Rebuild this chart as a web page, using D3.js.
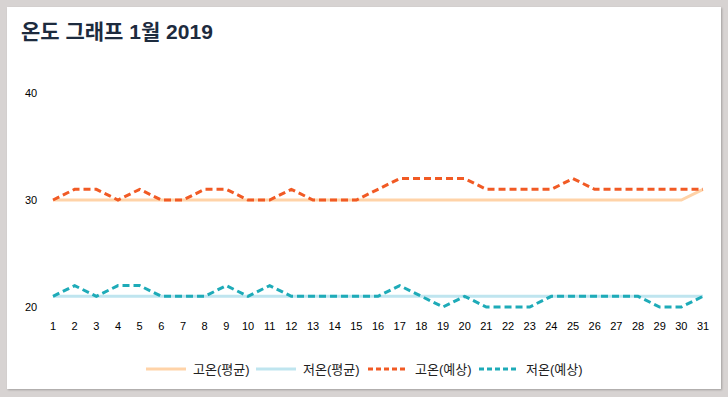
<!DOCTYPE html>
<html>
<head>
<meta charset="utf-8">
<script src="https://cdn.jsdelivr.net/npm/d3@7"></script>
<style>
  html, body { margin: 0; padding: 0; background: #d7d3d2; }
  body { width: 728px; height: 397px; overflow: hidden; }
  #card {
    position: absolute; left: 7px; top: 7px; width: 714px; height: 382px;
    background: #fff; box-shadow: 1px 1px 2px rgba(0,0,0,0.25);
  }
  svg { position: absolute; left: 0; top: 0; font-family: Arial, "Liberation Sans", "Noto Sans CJK KR", sans-serif; }
</style>
</head>
<body>
<div id="card"></div>
<div id="chart"></div>
<script>
const days = d3.range(1, 32);
const yTicks = [20, 30, 40];
const highAvg = [30,30,30,30,30,30,30,30,30,30,30,30,30,30,30,30,30,30,30,30,30,30,30,30,30,30,30,30,30,30,31];
const lowAvg = [21,21,21,21,21,21,21,21,21,21,21,21,21,21,21,21,21,21,21,21,21,21,21,21,21,21,21,21,21,21,21];
const highForecast = [30,31,31,30,31,30,30,31,31,30,30,31,30,30,30,31,32,32,32,32,31,31,31,31,32,31,31,31,31,31,31];
const lowForecast = [21,22,21,22,22,21,21,21,22,21,22,21,21,21,21,21,22,21,20,21,20,20,20,21,21,21,21,21,20,20,21];

const series = [
  { name: '고온(평균)', values: highAvg, color: '#ffd3a8', dash: null },
  { name: '저온(평균)', values: lowAvg, color: '#bfe5ef', dash: null },
  { name: '고온(예상)', values: highForecast, color: '#f15a24', dash: '7,4' },
  { name: '저온(예상)', values: lowForecast, color: '#1eabb8', dash: '7,4' }
];

const width = 728, height = 397;
const svg = d3.select('#chart').append('svg')
  .attr('width', width).attr('height', height);

svg.append('text')
  .attr('x', 21).attr('y', 39)
  .attr('fill', '#1d2b3e')
  .style('font-size', '21px').style('font-weight', 'bold')
  .text('온도 그래프 1월 2019');

const x = d3.scalePoint().domain(days).range([53, 703]);
const y = d3.scaleLinear().domain([20, 40]).range([307, 93]);

// y labels
svg.append('g')
  .selectAll('text').data(yTicks).enter().append('text')
  .attr('x', 31).attr('y', d => y(d))
  .attr('dy', '0.35em').attr('text-anchor', 'middle')
  .style('font-size', '11px').attr('fill', '#000')
  .text(d => d);

// x labels
svg.append('g')
  .selectAll('text').data(days).enter().append('text')
  .attr('x', d => x(d)).attr('y', 326)
  .attr('dy', '0.35em').attr('text-anchor', 'middle')
  .style('font-size', '11px').attr('fill', '#000')
  .text(d => d);

const line = d3.line()
  .x((d, i) => x(days[i]))
  .y(d => y(d));

svg.append('g').selectAll('path').data(series).enter().append('path')
  .attr('d', d => line(d.values))
  .attr('fill', 'none')
  .attr('stroke', d => d.color)
  .attr('stroke-width', 3)
  .attr('stroke-dasharray', d => d.dash);

// legend
const legendX = [146, 256, 368, 479];
const lg = svg.append('g').selectAll('g').data(series).enter().append('g')
  .attr('transform', (d, i) => `translate(${legendX[i]},369)`);
lg.append('line')
  .attr('x1', 0).attr('x2', 40).attr('y1', 0).attr('y2', 0)
  .attr('stroke', d => d.color).attr('stroke-width', 3)
  .attr('stroke-dasharray', d => d.dash ? '5,3' : null);
lg.append('text')
  .attr('x', 47).attr('dy', '0.35em')
  .style('font-size', '13px').attr('fill', '#222')
  .text(d => d.name);
</script>
</body>
</html>
